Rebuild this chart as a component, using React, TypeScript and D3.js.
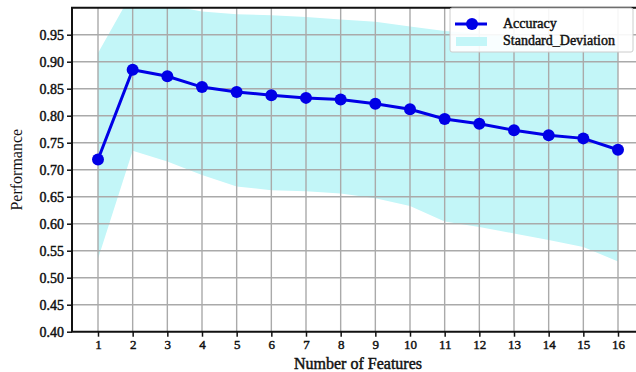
import React, { useRef, useEffect } from "react";
import * as d3 from "d3";

const featureCounts = [1, 2, 3, 4, 5, 6, 7, 8, 9, 10, 11, 12, 13, 14, 15, 16];
const accuracy = [
  0.719, 0.885, 0.873, 0.853, 0.844, 0.838, 0.833, 0.83, 0.822, 0.812, 0.794,
  0.785, 0.773, 0.764, 0.758, 0.737,
];
const upperBound = [
  0.916, 1.03, 1.005, 0.993, 0.988, 0.986, 0.983, 0.978, 0.974, 0.965, 0.957,
  0.952, 0.947, 0.942, 0.937, 0.932,
];
const lowerBound = [
  0.535, 0.735, 0.715, 0.69, 0.669, 0.662, 0.66, 0.656, 0.647, 0.633, 0.604,
  0.594, 0.582, 0.57, 0.557, 0.53,
];
const yTicks = [0.4, 0.45, 0.5, 0.55, 0.6, 0.65, 0.7, 0.75, 0.8, 0.85, 0.9, 0.95];
const legendLabels = ["Accuracy", "Standard_Deviation"];

const App = () => {
  const svgRef = useRef<SVGSVGElement>(null);

  useEffect(() => {
    const width = 636;
    const height = 372;
    const left = 72;
    const right = 644;
    const top = 7.7;
    const bottom = 331.7;
    const font = "Liberation Serif, serif";

    const x = d3.scaleLinear().domain([0.25, 16.75]).range([left, right]);
    const y = d3.scaleLinear().domain([0.4, 1.0]).range([bottom, top]);

    const svg = d3.select(svgRef.current);
    svg.selectAll("*").remove();
    svg.attr("width", width).attr("height", height).style("font-family", font);

    // faux-bold serif text (regular face + thin stroke)
    const boldish = (sel: any) =>
      sel
        .style("font-family", font)
        .attr("font-weight", "normal")
        .attr("fill", "#111")
        .attr("stroke", "#111")
        .attr("stroke-width", 0.45);

    svg
      .append("defs")
      .append("clipPath")
      .attr("id", "plot-clip")
      .append("rect")
      .attr("x", left)
      .attr("y", top)
      .attr("width", right - left)
      .attr("height", bottom - top);

    const rows = featureCounts.map((f, i) => ({
      f,
      acc: accuracy[i],
      hi: upperBound[i],
      lo: lowerBound[i],
    }));

    // std band
    const area = d3
      .area<any>()
      .x((d) => x(d.f))
      .y0((d) => y(d.lo))
      .y1((d) => y(d.hi));
    svg
      .append("path")
      .datum(rows)
      .attr("clip-path", "url(#plot-clip)")
      .attr("fill", "#c3f6f8")
      .attr("d", area);

    // grid
    const grid = svg.append("g").attr("stroke", "#aaaaaa").attr("stroke-width", 1.4);
    grid
      .selectAll("line.v")
      .data(featureCounts)
      .join("line")
      .attr("x1", (d) => x(d))
      .attr("x2", (d) => x(d))
      .attr("y1", top)
      .attr("y2", bottom);
    grid
      .selectAll("line.h")
      .data(yTicks.slice(1))
      .join("line")
      .attr("x1", left)
      .attr("x2", right)
      .attr("y1", (d) => y(d))
      .attr("y2", (d) => y(d));

    // accuracy line
    svg
      .append("path")
      .datum(rows)
      .attr("fill", "none")
      .attr("stroke", "#0000e6")
      .attr("stroke-width", 3)
      .attr(
        "d",
        d3
          .line<any>()
          .x((d) => x(d.f))
          .y((d) => y(d.acc))
      );
    svg
      .append("g")
      .attr("fill", "#0000e6")
      .selectAll("circle")
      .data(rows)
      .join("circle")
      .attr("cx", (d) => x(d.f))
      .attr("cy", (d) => y(d.acc))
      .attr("r", 6);

    // spines
    svg
      .append("path")
      .attr("fill", "none")
      .attr("stroke", "#111")
      .attr("stroke-width", 2)
      .attr("d", `M${right},${top}H${left}V${bottom}H${right}`);

    // axes
    const xAxis = svg
      .append("g")
      .attr("transform", `translate(0,${bottom})`)
      .call(d3.axisBottom(x).tickValues(featureCounts).tickSize(5).tickPadding(3).tickFormat(d3.format("d")));
    const yAxis = svg
      .append("g")
      .attr("transform", `translate(${left},0)`)
      .call(d3.axisLeft(y).tickValues(yTicks).tickSize(5).tickPadding(3).tickFormat(d3.format(".2f")));
    [xAxis, yAxis].forEach((g) => {
      g.attr("font-family", null).attr("font-size", null);
      g.select(".domain").remove();
      g.selectAll("line").attr("stroke", "#111").attr("stroke-width", 1.5);
      g.selectAll("text").call(boldish).attr("font-size", 14);
    });
    xAxis.selectAll("text").attr("font-size", 13);

    // axis titles
    svg
      .append("text")
      .attr("x", x(8.5))
      .attr("y", 369)
      .attr("text-anchor", "middle")
      .call(boldish)
      .attr("font-size", 16)
      .text("Number of Features");
    svg
      .append("text")
      .attr("transform", `translate(22,${(top + bottom) / 2}) rotate(-90)`)
      .attr("text-anchor", "middle")
      .style("font-family", font)
      .attr("font-size", 16)
      .attr("fill", "#111")
      .text("Performance");

    // legend
    const lg = svg.append("g").attr("transform", "translate(450,8)");
    lg.append("rect")
      .attr("width", 183)
      .attr("height", 44)
      .attr("fill", "white")
      .attr("fill-opacity", 0.9)
      .attr("stroke", "#ccc")
      .attr("rx", 2);
    lg.append("line")
      .attr("x1", 5)
      .attr("x2", 37)
      .attr("y1", 16)
      .attr("y2", 16)
      .attr("stroke", "#0000e6")
      .attr("stroke-width", 3);
    lg.append("circle").attr("cx", 22).attr("cy", 16).attr("r", 6).attr("fill", "#0000e6");
    lg.append("rect")
      .attr("x", 6)
      .attr("y", 29)
      .attr("width", 31)
      .attr("height", 9)
      .attr("fill", "#c3f6f8");
    lg.selectAll("text")
      .data(legendLabels)
      .join("text")
      .attr("x", 53)
      .attr("y", (d, i) => 20 + i * 17)
      .call(boldish)
      .attr("font-size", 14)
      .text((d) => d);
  }, []);

  return <svg ref={svgRef} style={{ position: "absolute", left: 0, top: 0 }}></svg>;
};

export default App;
